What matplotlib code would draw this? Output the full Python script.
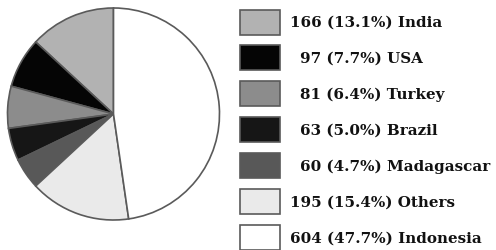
import matplotlib
matplotlib.use("Agg")
import matplotlib.pyplot as plt
from matplotlib.patches import Rectangle

countries = ["India", "USA", "Turkey", "Brazil", "Madagascar", "Others", "Indonesia"]
values = [166, 97, 81, 63, 60, 195, 604]
percents = [13.1, 7.7, 6.4, 5.0, 4.7, 15.4, 47.7]
colors = ["#b2b2b2", "#050505", "#8c8c8c", "#161616", "#585858", "#eaeaea", "#ffffff"]
edge = "#5a5a5a"

W, H = 496, 251
fig = plt.figure(figsize=(W / 100, H / 100), dpi=100)
fig.patch.set_facecolor("white")

# pie axes
cx, cy, r = 113.5, 115, 106
ax = fig.add_axes([(cx - r) / W, (H - cy - r) / H, 2 * r / W, 2 * r / H])
ax.pie(values, colors=colors, startangle=90, counterclock=True,
       wedgeprops=dict(edgecolor=edge, linewidth=1.2))
ax.set_xlim(-1.0, 1.0)
ax.set_ylim(-1.0, 1.0)
ax.set_aspect("auto")
ax.axis("off")

# legend axes (pixel coordinates)
lg = fig.add_axes([0, 0, 1, 1])
lg.set_xlim(0, W)
lg.set_ylim(H, 0)
lg.axis("off")
y0, dy = 23, 35.9
for i, (c, v, p, col) in enumerate(zip(countries, values, percents, colors)):
    yc = y0 + dy * i
    lg.add_patch(Rectangle((240, yc - 12.5), 40, 25, facecolor=col,
                           edgecolor=edge, linewidth=1.2))
    x = 290 if v >= 100 else 300
    lg.text(x, yc, f"{v} ({p:.1f}%) {c}", fontsize=10.9, fontweight="bold",
            family="DejaVu Serif", va="center", ha="left", color="#111111")

fig.savefig("out.png", dpi=100)
